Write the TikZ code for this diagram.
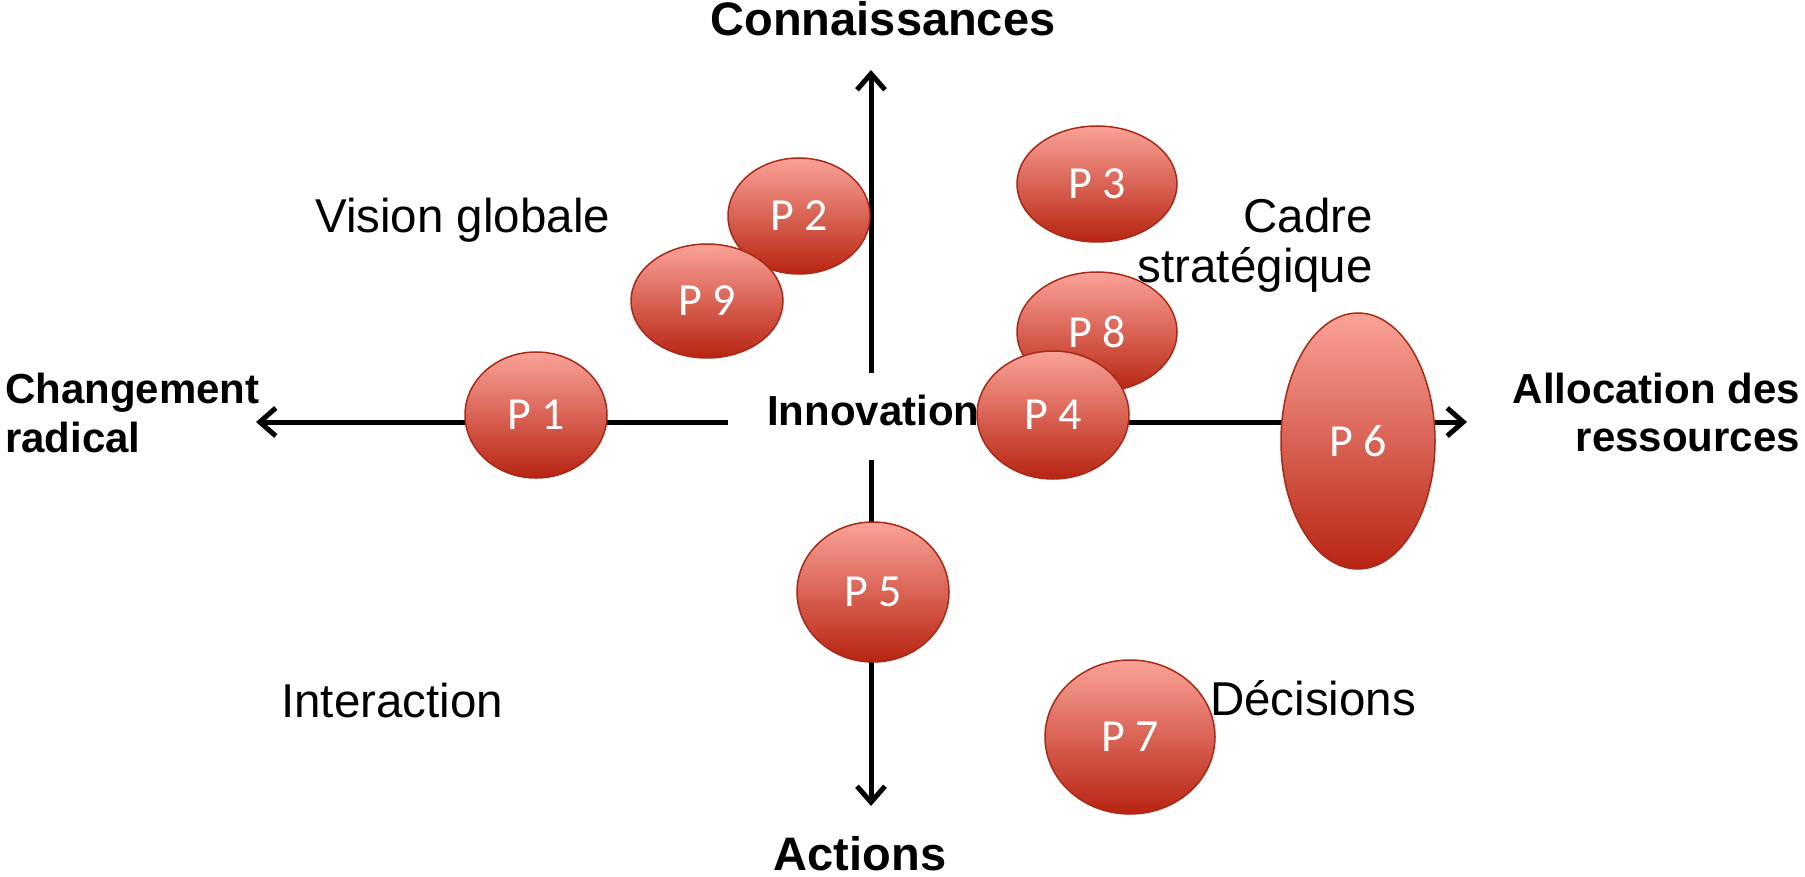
\documentclass[tikz,border=0pt]{standalone}
\usepackage{fontspec}
\setmainfont{Liberation Sans}
\newfontfamily\pfont{Carlito}
\usetikzlibrary{shapes.geometric,arrows.meta}
\definecolor{ptop}{RGB}{250,162,152}
\definecolor{pbot}{RGB}{184,36,18}
\definecolor{pline}{RGB}{168,42,22}
\begin{document}
\begin{tikzpicture}[x=1pt,y=-1pt,
  pell/.style={ellipse, draw=pline, line width=1.5pt, top color=ptop, bottom color=pbot,
    inner sep=0pt, text=white, font=\pfont\fontsize{46}{50}\selectfont},
  axis/.style={line width=5pt, -{Straight Barb[length=16pt,width=28pt]}},
  axlab/.style={font=\bfseries\fontsize{42}{48}\selectfont, inner sep=0pt},
  biglab/.style={font=\bfseries\fontsize{47}{52}\selectfont, inner sep=0pt},
  qlab/.style={font=\fontsize{47.5}{52}\selectfont, inner sep=0pt}]
\useasboundingbox (0,0) rectangle (1805,877);
% axes
\coordinate (oN) at (871,373); \coordinate (tN) at (871,70);
\coordinate (oS) at (871,460); \coordinate (tS) at (871,806);
\coordinate (oW) at (728,422); \coordinate (tW) at (256,422);
\coordinate (oE) at (1000,422); \coordinate (tE) at (1467,422);
\draw[axis] (oN) -- (tN);
\draw[axis] (oS) -- (tS);
\draw[axis] (oW) -- (tW);
\draw[axis] (oE) -- (tE);
\node[axlab, anchor=base west] (innov) at (767,425) {Innovation};
% ellipses
\node[pell, minimum width=142pt, minimum height=116pt] (p2) at (799,216) {P 2};
\node[pell, minimum width=152pt, minimum height=114pt] (p9) at (707,301) {P 9};
\node[pell, minimum width=160pt, minimum height=116pt] (p3) at (1097,184) {P 3};
\node[pell, minimum width=160pt, minimum height=120pt] (p8) at (1097,332) {P 8};
\node[pell, minimum width=152pt, minimum height=128pt] (p4) at (1053,415) {P 4};
\node[pell, minimum width=142pt, minimum height=126pt] (p1) at (536,415) {P 1};
\node[pell, minimum width=152pt, minimum height=140pt] (p5) at (873,592) {P 5};
\node[pell, minimum width=154pt, minimum height=256pt] (p6) at (1358,441) {P 6};
\node[pell, minimum width=170pt, minimum height=154pt] (p7) at (1130,737) {P 7};
% labels
\node[biglab, anchor=base] (conn) at (883,36) {Connaissances};
\node[biglab, anchor=base] (act) at (860,870) {Actions};
\node[axlab, anchor=base west] (chg1) at (5,403) {Changement};
\node[axlab, anchor=base west] (chg2) at (5,452) {radical};
\node[axlab, anchor=base east] (all1) at (1800,403) {Allocation des};
\node[axlab, anchor=base east] (all2) at (1800,451) {ressources};
\node[qlab, anchor=base west] (vis) at (315,233) {Vision globale};
\node[qlab, anchor=base east] (cad1) at (1373,233) {Cadre};
\node[qlab, anchor=base east] (cad2) at (1373,283) {stratégique};
\node[qlab, anchor=base west] (inter) at (281,717) {Interaction};
\node[qlab, anchor=base west] (dec) at (1210,715) {Décisions};
\end{tikzpicture}
\end{document}
